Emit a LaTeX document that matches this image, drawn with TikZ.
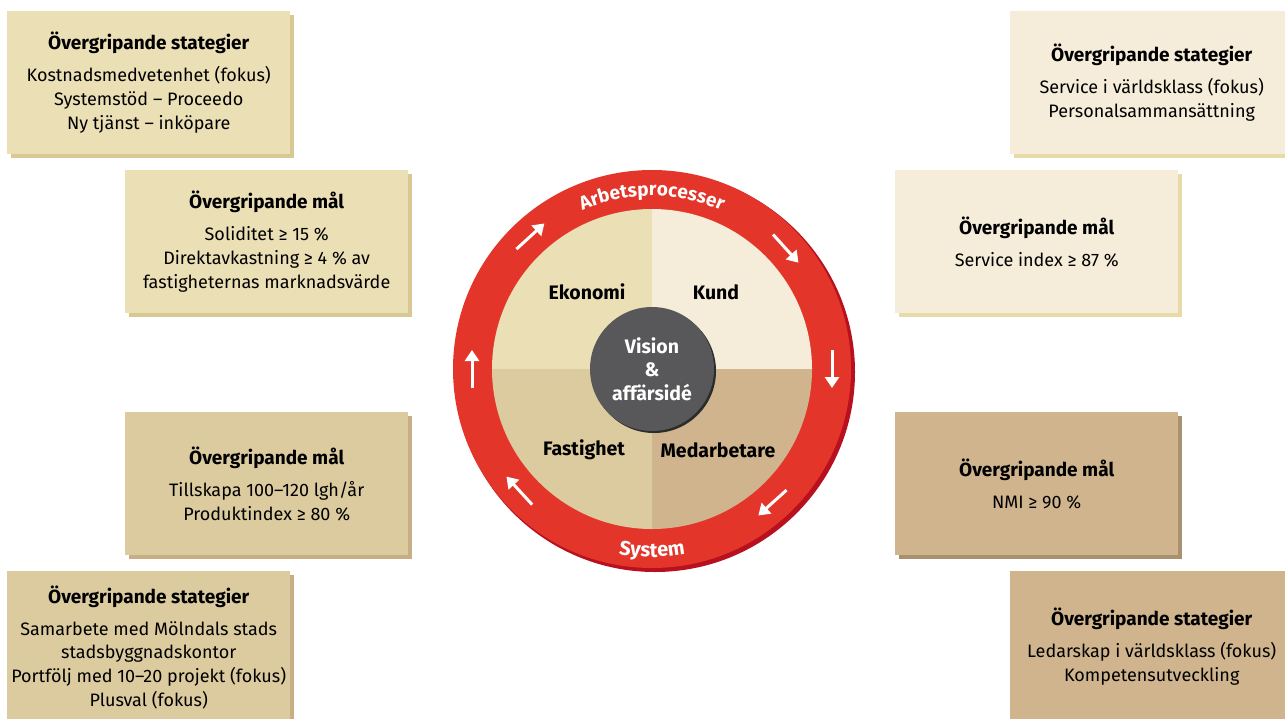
\documentclass[tikz,border=0pt]{standalone}
\usepackage{fontspec}
\setmainfont{Fira Sans}
\usetikzlibrary{decorations.text,shadows,arrows.meta,calc}
\definecolor{ekF}{HTML}{EBDFB5}\definecolor{ekS}{HTML}{D8C893}
\definecolor{kuF}{HTML}{F5EDD9}\definecolor{kuS}{HTML}{E8DBAA}
\definecolor{faF}{HTML}{DCCB9F}\definecolor{faS}{HTML}{C8AE84}
\definecolor{meF}{HTML}{CFB48D}\definecolor{meS}{HTML}{A8916E}
\definecolor{ringred}{HTML}{E3352A}\definecolor{ringdark}{HTML}{B8101E}
\definecolor{hubF}{HTML}{58585A}\definecolor{hubS}{HTML}{2C2C2C}
\tikzset{
  infobox/.style 2 args={fill=#1, general shadow={fill=#2, shadow xshift=4pt, shadow yshift=-4pt},
    minimum width=283pt, minimum height=143pt, inner sep=0pt, anchor=north west,
    align=center, font=\fontsize{18}{23.7}\selectfont, text=black},
  wlabel/.style={font=\bfseries\fontsize{19.5}{23}\selectfont, text=black},
  ringarrow/.style={draw=white, line width=3pt, -{Triangle[width=14pt,length=11pt]}},
}
\newcommand{\ttl}[1]{{\fontsize{19}{24}\selectfont\textbf{#1}}\\[8.5pt]}
\begin{document}
\begin{tikzpicture}[x=1pt,y=-1pt]
\useasboundingbox (0,0) rectangle (1285,718);
% left boxes
\node[infobox={ekF}{ekS}] (ekStrat) at (7,11) {\ttl{Övergripande stategier}Kostnadsmedvetenhet (fokus)\\Systemstöd -- Proceedo\\Ny tjänst -- inköpare};
\node[infobox={ekF}{ekS}] (ekMal) at (125,170) {\ttl{Övergripande mål}Soliditet ≥ 15 \%\\Direktavkastning ≥ 4 \% av\\fastigheternas marknadsvärde};
\node[infobox={faF}{faS}] (faMal) at (125,412) {\ttl{Övergripande mål}Tillskapa 100--120 lgh/år\\Produktindex ≥ 80 \%};
\node[infobox={faF}{faS}, minimum height=152pt] (faStrat) at (7,571) {\ttl{Övergripande stategier}Samarbete med Mölndals stads\\stadsbyggnadskontor\\Portfölj med 10--20 projekt (fokus)\\Plusval (fokus)};
% right boxes
\node[infobox={kuF}{kuS}] (kuStrat) at (1010,11) {\ttl{Övergripande stategier}Service i världsklass (fokus)\\Personalsammansättning};
\node[infobox={kuF}{kuS}] (kuMal) at (895,170) {\ttl{Övergripande mål}Service index ≥ 87 \%};
\node[infobox={meF}{meS}] (meMal) at (895,412) {\ttl{Övergripande mål}NMI ≥ 90 \%};
\node[infobox={meF}{meS}, minimum height=150pt] (meStrat) at (1010,571) {\ttl{Övergripande stategier}Ledarskap i världsklass (fokus)\\Kompetensutveckling};
% wheel
\begin{scope}[shift={(652,369)}, y=1pt]
  \fill[ringdark] (3,-3) circle (200);
  \fill[ringred] (0,0) circle (199);
  \fill[ekF] (0,0) -- (180:160) arc[start angle=180, end angle=90, radius=160] -- cycle;
  \fill[kuF] (0,0) -- (90:160) arc[start angle=90, end angle=0, radius=160] -- cycle;
  \fill[meF] (0,0) -- (0:160) arc[start angle=0, end angle=-90, radius=160] -- cycle;
  \fill[faF] (0,0) -- (-90:160) arc[start angle=-90, end angle=-180, radius=160] -- cycle;
  \fill[hubS] (2,-2) circle (62);
  \fill[hubF] (0,0) circle (62);
  \node[wlabel] (ekonomi) at (-65,77) {Ekonomi};
  \node[wlabel] (kund) at (64,77) {Kund};
  \node[wlabel] (fastighet) at (-68,-81) {Fastighet};
  \node[wlabel] (medarbetare) at (66,-81) {Medarbetare};
  \node[align=center, text=white, font=\bfseries\fontsize{19.5}{23.5}\selectfont] (vision) at (0,0) {Vision\\\&\\affärsidé};
  \path[decorate, decoration={text along path, text align=center,
     text={|\color{white}\bfseries\fontsize{19}{19}\selectfont|Arbetsprocesser}}]
     (145:173) arc[start angle=145, end angle=35, radius=173];
  \path[decorate, decoration={text along path, text align=center,
     text={|\color{white}\bfseries\fontsize{20}{20}\selectfont|System}}]
     (230:188) arc[start angle=230, end angle=310, radius=188];
  \foreach \a in {132.5,42,0,-48,-137.5,180}{
    \draw[ringarrow] ($(\a:180)+(\a+90:19)$) -- ($(\a:180)+(\a-90:19)$);
  }
\end{scope}
\end{tikzpicture}
\end{document}
